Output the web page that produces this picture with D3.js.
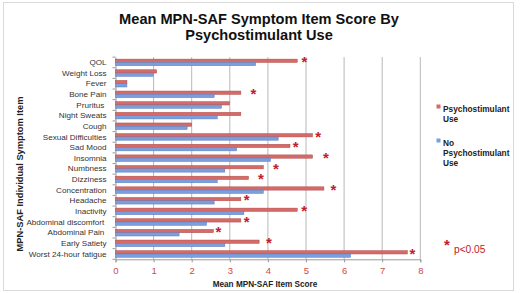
<!DOCTYPE html>
<html>
<head>
<meta charset="utf-8">
<script src="https://cdn.jsdelivr.net/npm/d3@7/dist/d3.min.js"></script>
<style>
  body { margin: 0; background: #fff; }
  svg { font-family: "Liberation Sans", Arial, sans-serif; }
</style>
</head>
<body>
<div id="vizContainer"></div>
<script>
let w = 520;
let h = 293;

// symptom items, top to bottom
let items = ["QOL", "Weight Loss", "Fever", "Bone Pain", "Pruritus ", "Night Sweats", "Cough",
	"Sexual Difficulties", "Sad Mood", "Insomnia", "Numbness", "Dizziness", "Concentration",
	"Headache", "Inactivity", "Abdominal discomfort ", "Abdominal Pain ", "Early Satiety",
	"Worst 24-hour fatigue"];

let seriesNames = ["Psychostimulant Use", "No Psychostimulant Use"];

let psychoUse = [4.77, 1.08, 0.3, 3.29, 2.99, 3.29, 2.0, 5.17, 4.58, 5.17, 3.88, 3.49, 5.47,
	3.29, 4.77, 3.29, 2.57, 3.77, 7.66];
let noPsychoUse = [3.68, 0.99, 0.3, 2.59, 2.78, 2.67, 1.88, 4.27, 3.18, 4.07, 2.87, 2.67, 3.88,
	2.59, 3.37, 2.39, 1.67, 2.87, 6.17];

// where the significance asterisks sit (score units), null = not significant
let starAt = [4.96, null, null, 3.62, null, null, null, 5.32, 4.73, 5.52, 4.21, 3.82, 5.72,
	3.44, 4.95, 3.44, 2.7, 4.03, 7.79];

let xTicks = [0, 1, 2, 3, 4, 5, 6, 7, 8];

let rows = items.map(function (d, i) {
	return { item: d, values: [psychoUse[i], noPsychoUse[i]], star: starAt[i] };
});

let colors = ["#d56b69", "#7d9edd"];
let strokes = ["#b04a48", "#5b7ec0"];
let starColor = "#c0202a";

let viz = d3.select("#vizContainer").append("svg")
	.attr("width", w)
	.attr("height", h)
	;

// frame
viz.append("rect")
	.attr("x", 3.5).attr("y", 2.5)
	.attr("width", 510).attr("height", 288)
	.attr("fill", "white")
	.attr("stroke", "#dadada");

let plotLeft = 115.5, plotRight = 420.3, plotTop = 57.1, plotBottom = 259.3;

let xScale = d3.scaleLinear().domain([0, 8]).range([plotLeft, plotRight]);
let yScale = d3.scaleBand().domain(items).range([plotTop, plotBottom]).paddingInner(0.38).paddingOuter(0.19);
let subScale = d3.scaleBand().domain([0, 1]).range([0, yScale.bandwidth()]);

// title
let titleLines = ["Mean MPN-SAF Symptom Item Score By", "Psychostimulant Use"];
viz.append("g").selectAll("text")
	.data(titleLines)
	.enter().append("text")
	.attr("x", 259)
	.attr("y", function (d, i) { return 24 + i * 15.5; })
	.attr("text-anchor", "middle")
	.attr("font-size", 14.6).attr("font-weight", "bold").attr("fill", "#111")
	.text(function (d) { return d; });

// grid
let gridGroup = viz.append("g");
gridGroup.selectAll("line")
	.data(xTicks.slice(1))
	.enter().append("line")
	.attr("x1", function (d) { return xScale(d); })
	.attr("x2", function (d) { return xScale(d); })
	.attr("y1", plotTop).attr("y2", plotBottom)
	.attr("stroke", "#b8b8b8").attr("stroke-width", 1);

// x axis
let xAxis = viz.append("g")
	.attr("transform", "translate(0," + plotBottom + ")")
	.call(d3.axisBottom(xScale).tickValues(xTicks).tickSize(3).tickPadding(5).tickFormat(d3.format("d")));
xAxis.select(".domain").attr("stroke", "#999");
xAxis.selectAll(".tick line").attr("stroke", "#999");
xAxis.selectAll("text").attr("fill", "#d0484a").attr("font-size", 9.5)
	.attr("font-family", "Liberation Sans, Arial, sans-serif");

// y axis
let yAxis = viz.append("g")
	.attr("transform", "translate(" + plotLeft + ",0)")
	.call(d3.axisLeft(yScale).tickSize(0).tickPadding(9));
yAxis.select(".domain").attr("stroke", "#999");
yAxis.selectAll("text").attr("fill", "#333").attr("font-size", 8.1)
	.attr("font-family", "Liberation Sans, Arial, sans-serif")
	.style("white-space", "pre");
// small ticks between categories
let step = yScale.step();
viz.append("g").selectAll("line")
	.data(d3.range(items.length + 1))
	.enter().append("line")
	.attr("x1", plotLeft - 3).attr("x2", plotLeft)
	.attr("y1", function (d) { return plotTop + d * step; })
	.attr("y2", function (d) { return plotTop + d * step; })
	.attr("stroke", "#999");

// bars
let graphGroup = viz.append("g").attr("class", "graphGroup");
let rowGroups = graphGroup.selectAll(".row")
	.data(rows)
	.enter().append("g")
	.attr("class", "row")
	.attr("transform", function (d) { return "translate(0," + yScale(d.item) + ")"; });

rowGroups.selectAll("rect")
	.data(function (d) { return d.values; })
	.enter().append("rect")
	.attr("x", xScale(0))
	.attr("y", function (d, i) { return subScale(i); })
	.attr("width", function (d) { return xScale(d) - xScale(0); })
	.attr("height", subScale.bandwidth())
	.attr("fill", function (d, i) { return colors[i]; })
	.attr("stroke", function (d, i) { return strokes[i]; })
	.attr("stroke-width", 0.5);

// asterisks
graphGroup.selectAll(".star")
	.data(rows.filter(function (d) { return d.star !== null; }))
	.enter().append("text")
	.attr("class", "star")
	.attr("x", function (d) { return xScale(d.star); })
	.attr("y", function (d) { return yScale(d.item) + subScale(0) + 8; })
	.attr("text-anchor", "middle")
	.attr("font-size", 15).attr("font-weight", "bold")
	.attr("fill", starColor)
	.text("*");

// axis titles
viz.append("text")
	.attr("x", 265).attr("y", 287)
	.attr("text-anchor", "middle")
	.attr("font-size", 8.2).attr("font-weight", "bold").attr("fill", "#222")
	.text("Mean MPN-SAF Item Score");
viz.append("text")
	.attr("transform", "translate(22.5,174) rotate(-90)")
	.attr("text-anchor", "middle")
	.attr("font-size", 9.3).attr("font-weight", "bold").attr("fill", "#222")
	.text("MPN-SAF Individual Symptom Item");

// legend
let legendLines = [["Psychostimulant", "Use"], ["No", "Psychostimulant", "Use"]];
let legendY = [108, 142];
let legend = viz.append("g");
legendLines.forEach(function (lines, i) {
	legend.append("rect")
		.attr("x", 436.5).attr("y", legendY[i] - 3.5)
		.attr("width", 4).attr("height", 4)
		.attr("fill", colors[i]);
	legend.append("text")
		.attr("x", 443).attr("y", legendY[i] + 3.5)
		.attr("font-size", 8.3).attr("font-weight", "bold").attr("fill", "#222")
		.selectAll("tspan")
		.data(lines)
		.enter().append("tspan")
		.attr("x", 443)
		.attr("dy", function (d, j) { return j === 0 ? 0 : 10; })
		.text(function (d) { return d; });
});

viz.append("text")
	.attr("x", 447).attr("y", 250)
	.attr("text-anchor", "middle")
	.attr("font-size", 15).attr("font-weight", "bold").attr("fill", starColor)
	.text("*");
viz.append("text")
	.attr("x", 454).attr("y", 253)
	.attr("font-size", 10.2).attr("fill", starColor)
	.text("p<0.05");
</script>
</body>
</html>
